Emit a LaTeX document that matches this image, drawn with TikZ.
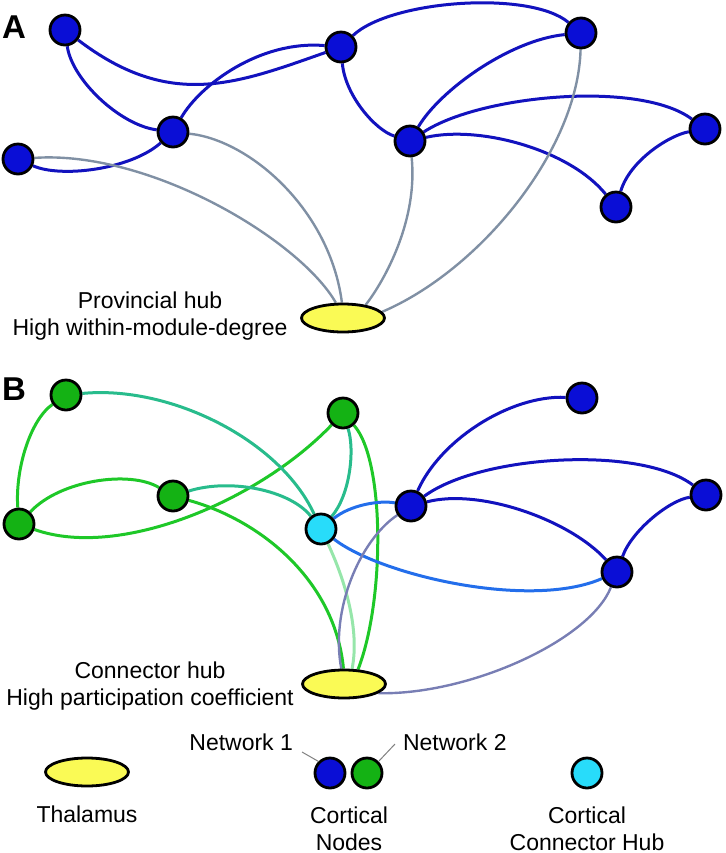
\documentclass[tikz,border=0pt]{standalone}
\usepackage{fontspec}
\setmainfont{Liberation Sans}
\usetikzlibrary{shapes.geometric, backgrounds}
\definecolor{nodeblue}{RGB}{10,14,214}
\definecolor{nodegreen}{RGB}{20,178,20}
\definecolor{hubcyan}{RGB}{40,220,250}
\definecolor{thalyellow}{RGB}{250,250,85}
\definecolor{edgeblue}{RGB}{18,18,190}
\definecolor{edgegray}{RGB}{128,144,164}
\definecolor{edgegreen}{RGB}{30,200,40}
\definecolor{edgeteal}{RGB}{40,188,140}
\definecolor{edgelight}{RGB}{35,110,235}
\definecolor{edgepale}{RGB}{150,230,170}
\definecolor{edgeslate}{RGB}{120,126,180}

\begin{document}
\begin{tikzpicture}[x=0.5pt, y=-0.5pt,
    cortex/.style={circle, draw=black, line width=1.4pt, minimum size=15pt, inner sep=0pt},
    thal/.style={ellipse, draw=black, line width=1.4pt, fill=thalyellow, minimum width=41.5pt, minimum height=14pt, inner sep=0pt},
    lbl/.style={font=\fontsize{11.5}{13.5}\selectfont, align=center},
    panel/.style={font=\bfseries\fontsize{16.5}{16.5}\selectfont},
    edge/.style={line width=1.5pt},
    leader/.style={gray, line width=0.5pt}]
    \useasboundingbox (0,0) rectangle (726,853);

    % A: provincial hub
    \node[panel] (labA) at (14,27) {A};
    \node[cortex, fill=nodeblue] (a1) at (65,30) {};
    \node[cortex, fill=nodeblue] (a2) at (173,132) {};
    \node[cortex, fill=nodeblue] (a3) at (18,159) {};
    \node[cortex, fill=nodeblue] (a4) at (341,47) {};
    \node[cortex, fill=nodeblue] (a5) at (581,33) {};
    \node[cortex, fill=nodeblue] (a6) at (410,141) {};
    \node[cortex, fill=nodeblue] (a7) at (705,129) {};
    \node[cortex, fill=nodeblue] (a8) at (616,207) {};
    \node[thal] (thA) at (343,318) {};
    \node[lbl, anchor=base] (txtA) at (150,335) {Provincial hub\\High within-module-degree};

    \begin{scope}[on background layer]
    \draw[edge, edgeblue] (a1) .. controls (170,110) and (236,84) .. (a4);
    \draw[edge, edgeblue] (a1) .. controls (72,80) and (120,125) .. (a2);
    \draw[edge, edgeblue] (a2) .. controls (200,85) and (260,40) .. (a4);
    \draw[edge, edgeblue] (a3) .. controls (60,178) and (130,170) .. (a2);
    \draw[edge, edgeblue] (a4) .. controls (390,0) and (530,-10) .. (a5);
    \draw[edge, edgeblue] (a4) .. controls (345,95) and (375,130) .. (a6);
    \draw[edge, edgeblue] (a6) .. controls (440,90) and (510,40) .. (a5);
    \draw[edge, edgeblue] (a6) .. controls (480,95) and (640,80) .. (a7);
    \draw[edge, edgeblue] (a6) .. controls (480,125) and (570,150) .. (a8);
    \draw[edge, edgeblue] (a8) .. controls (630,160) and (670,135) .. (a7);
    \draw[edge, edgegray, line width=1.2pt] (a3) .. controls (150,150) and (300,240) .. (thA.115);
    \draw[edge, edgegray, line width=1.2pt] (a2) .. controls (250,140) and (330,210) .. (thA.94);
    \draw[edge, edgegray, line width=1.2pt] (a6) .. controls (418,220) and (385,280) .. (thA.30);
    \draw[edge, edgegray, line width=1.2pt] (a5) .. controls (578,150) and (480,270) .. (thA.9);
    \end{scope}

    % B: connector hub
    \node[panel] (labB) at (14,389) {B};
    \node[cortex, fill=nodegreen] (b1) at (66,395) {};
    \node[cortex, fill=nodegreen] (b2) at (19,524) {};
    \node[cortex, fill=nodegreen] (b3) at (173,496) {};
    \node[cortex, fill=nodegreen] (b4) at (343,413) {};
    \node[cortex, fill=hubcyan] (hub) at (321,529) {};
    \node[cortex, fill=nodeblue] (b5) at (411,506) {};
    \node[cortex, fill=nodeblue] (b6) at (582,398) {};
    \node[cortex, fill=nodeblue] (b7) at (706,495) {};
    \node[cortex, fill=nodeblue] (b8) at (617,572) {};
    \node[thal] (thB) at (344,684) {};
    \node[lbl, anchor=base] (txtB) at (150,705) {Connector hub\\High participation coefficient};

    \begin{scope}[on background layer]
    \draw[edge, edgegreen] (b1) .. controls (30,420) and (15,470) .. (b2);
    \draw[edge, edgegreen] (b2) .. controls (60,480) and (130,470) .. (b3);
    \draw[edge, edgegreen] (b2) .. controls (120,560) and (260,500) .. (b4);
    \draw[edge, edgegreen] (b3) .. controls (260,520) and (335,580) .. (thB.92);
    \draw[edge, edgegreen] (b4) .. controls (385,460) and (385,600) .. (thB.46);
    \draw[edge, edgeteal] (b1) .. controls (170,385) and (280,440) .. (hub);
    \draw[edge, edgeteal] (b3) .. controls (230,478) and (290,490) .. (hub);
    \draw[edge, edgeteal] (b4) .. controls (355,450) and (350,495) .. (hub);
    \draw[edge, edgepale] (hub) .. controls (345,580) and (360,630) .. (thB.62);
    \draw[edge, edgelight] (hub) .. controls (350,505) and (380,500) .. (b5);
    \draw[edge, edgelight] (hub) .. controls (380,575) and (530,610) .. (b8);
    \draw[edge, edgeslate, line width=1.2pt] (b5) .. controls (360,540) and (330,610) .. (thB.100);
    \draw[edge, edgeslate, line width=1.2pt] (b8) .. controls (590,640) and (470,695) .. (thB.-15);
    \draw[edge, edgeblue] (b5) .. controls (440,440) and (510,395) .. (b6);
    \draw[edge, edgeblue] (b5) .. controls (480,455) and (640,445) .. (b7);
    \draw[edge, edgeblue] (b5) .. controls (480,488) and (570,520) .. (b8);
    \draw[edge, edgeblue] (b8) .. controls (632,530) and (670,500) .. (b7);
    \end{scope}

    % legend
    \node[thal] (legThal) at (87,772) {};
    \node[lbl, anchor=base] (legThalTxt) at (87,822) {Thalamus};
    \node[cortex, fill=nodeblue] (legN1) at (330,773) {};
    \node[cortex, fill=nodegreen] (legN2) at (367,773) {};
    \node[lbl, anchor=base] (legNodesTxt) at (349,850) {Cortical\\Nodes};
    \node[lbl, anchor=base east] (net1) at (300,750) {Network 1};
    \node[lbl, anchor=base west] (net2) at (396,750) {Network 2};
    \draw[leader] ([shift={(1pt,-1pt)}]net1.base east) -- (legN1.135);
    \draw[leader] ([shift={(-0.5pt,3pt)}]net2.base west) -- (legN2.45);
    \node[cortex, fill=hubcyan] (legHub) at (587,773) {};
    \node[lbl, anchor=base] (legHubTxt) at (587,850) {Cortical\\Connector Hub};
\end{tikzpicture}
\end{document}
